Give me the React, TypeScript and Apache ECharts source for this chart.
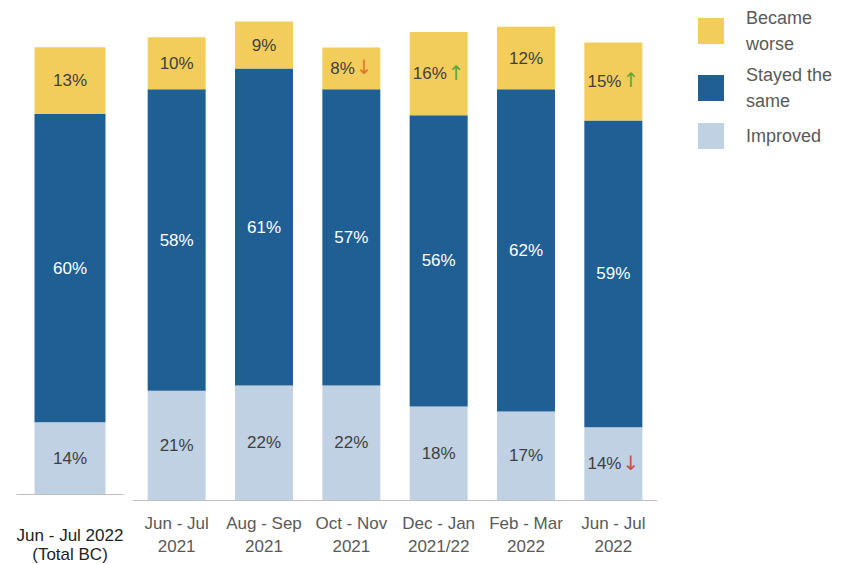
import React, { useEffect, useRef } from "react";
import * as echarts from "echarts";

const totalCategory = ["Jun - Jul 2022\n(Total BC)"];
const totalImproved = [14];
const totalSame = [60];
const totalWorse = [13];

const categories = [
  "Jun - Jul\n2021",
  "Aug - Sep\n2021",
  "Oct - Nov\n2021",
  "Dec - Jan\n2021/22",
  "Feb - Mar\n2022",
  "Jun - Jul\n2022",
];
const improved = [21, 22, 22, 18, 17, 14];
const same = [58, 61, 57, 56, 62, 59];
const worse = [10, 9, 8, 16, 12, 15];
// trend markers: 1 = up (green), -1 = down, 0 = none
const worseTrend = [0, 0, -1, 1, 0, 1];
const improvedTrend = [0, 0, 0, 0, 0, -1];

const YELLOW = "#F2CD5C";
const BLUE = "#1F5F94";
const LIGHT = "#BFD1E3";
const FONT = "'Liberation Sans', Arial, sans-serif";

const rich = {
  v: { fontSize: 17, fontFamily: FONT },
  up: { fontSize: 20, color: "#5BA83A", fontFamily: "DejaVu Sans", padding: [0, 0, 2, 1] },
  dnO: { fontSize: 20, color: "#E0762A", fontFamily: "DejaVu Sans", padding: [0, 0, 2, 1] },
  dnR: { fontSize: 20, color: "#C9504D", fontFamily: "DejaVu Sans", padding: [0, 0, 2, 1] },
};

function trendLabel(trend: number[], downKey: string) {
  return (p: any) => {
    const t = trend[p.dataIndex];
    const s = `{v|${p.value}%}`;
    if (t === 1) return s + "{up|↑}";
    if (t === -1) return s + `{${downKey}|↓}`;
    return s;
  };
}

export default function App() {
  const ref = useRef<HTMLDivElement>(null);
  useEffect(() => {
    const chart = echarts.init(ref.current!, undefined, { renderer: "svg" });
    const labelBase = { show: true, position: "inside", fontSize: 17, fontFamily: FONT };
    const legendBase = {
      orient: "vertical",
      left: 693,
      itemWidth: 26,
      itemHeight: 26,
      icon: "rect",
      textStyle: { color: "#595959", fontSize: 18, fontFamily: FONT, lineHeight: 26, padding: [0, 0, 0, 17] },
      selectedMode: false,
    };
    chart.setOption({
      animation: false,
      backgroundColor: "#ffffff",
      legend: [
        { ...legendBase, top: 0, data: ["Became worse"], formatter: () => "Became\nworse" },
        { ...legendBase, top: 57, data: ["Stayed the same"], formatter: () => "Stayed the\nsame" },
        { ...legendBase, top: 118, data: ["Improved"] },
      ],
      grid: [
        { left: 17, width: 106, top: 6.3, bottom: 70 },
        { left: 133, width: 524, top: 6, bottom: 64 },
      ],
      xAxis: [
        {
          type: "category",
          gridIndex: 0,
          data: totalCategory,
          axisLine: { lineStyle: { color: "#BFBFBF" } },
          axisTick: { show: false },
          axisLabel: { color: "#222222", fontSize: 17, fontFamily: FONT, lineHeight: 19, margin: 32 },
        },
        {
          type: "category",
          gridIndex: 1,
          data: categories,
          axisLine: { lineStyle: { color: "#BFBFBF" } },
          axisTick: { show: false },
          axisLabel: { color: "#595959", fontSize: 17, fontFamily: FONT, lineHeight: 23, margin: 12, interval: 0 },
        },
      ],
      yAxis: [
        { type: "value", gridIndex: 0, min: 0, max: 95, show: false, splitLine: { show: false } },
        { type: "value", gridIndex: 1, min: 0, max: 95, show: false, splitLine: { show: false } },
      ],
      series: [
        {
          name: "Improved", type: "bar", stack: "t", xAxisIndex: 0, yAxisIndex: 0, barWidth: 71,
          data: totalImproved, itemStyle: { color: LIGHT },
          label: { ...labelBase, color: "#404040", formatter: "{c}%" },
        },
        {
          name: "Stayed the same", type: "bar", stack: "t", xAxisIndex: 0, yAxisIndex: 0, barWidth: 71,
          data: totalSame, itemStyle: { color: BLUE },
          label: { ...labelBase, color: "#ffffff", formatter: "{c}%" },
        },
        {
          name: "Became worse", type: "bar", stack: "t", xAxisIndex: 0, yAxisIndex: 0, barWidth: 71,
          data: totalWorse, itemStyle: { color: YELLOW },
          label: { ...labelBase, color: "#404040", formatter: "{c}%" },
        },
        {
          name: "Improved", type: "bar", stack: "r", xAxisIndex: 1, yAxisIndex: 1, barWidth: 58,
          data: improved, itemStyle: { color: LIGHT },
          label: { ...labelBase, color: "#404040", formatter: trendLabel(improvedTrend, "dnR"), rich },
        },
        {
          name: "Stayed the same", type: "bar", stack: "r", xAxisIndex: 1, yAxisIndex: 1, barWidth: 58,
          data: same, itemStyle: { color: BLUE },
          label: { ...labelBase, color: "#ffffff", formatter: "{c}%" },
        },
        {
          name: "Became worse", type: "bar", stack: "r", xAxisIndex: 1, yAxisIndex: 1, barWidth: 58,
          data: worse, itemStyle: { color: YELLOW },
          label: { ...labelBase, color: "#404040", formatter: trendLabel(worseTrend, "dnO"), rich },
        },
      ],
    });
    return () => chart.dispose();
  }, []);
  return <div ref={ref} style={{ width: 844, height: 564, position: "absolute", left: 0, top: 0 }} />;
}
